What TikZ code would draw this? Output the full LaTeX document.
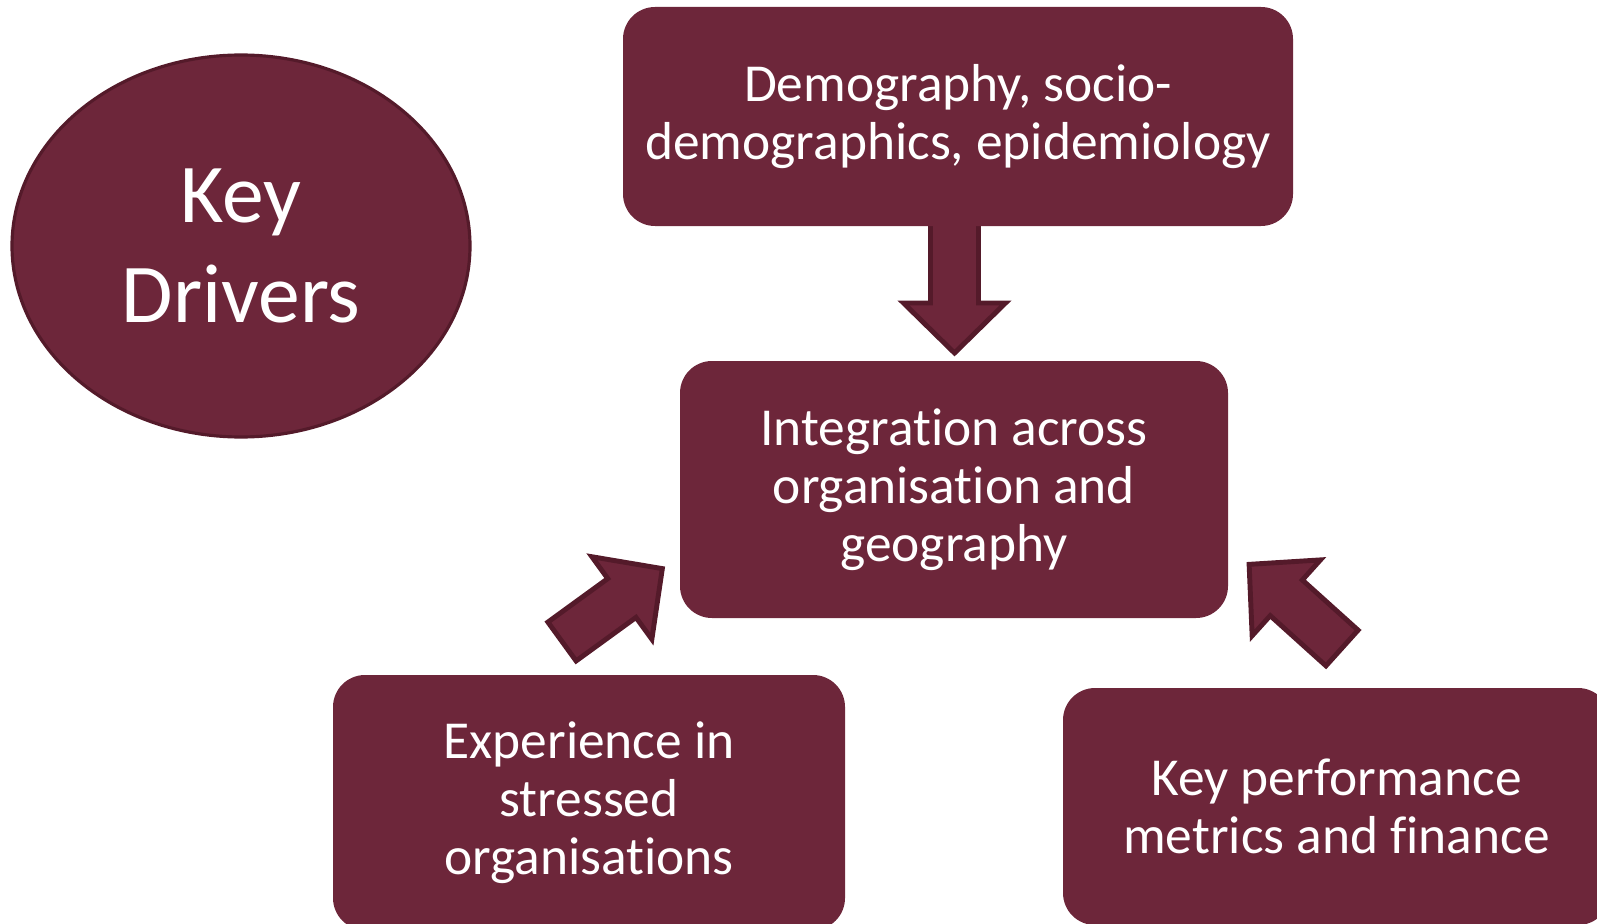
\documentclass[tikz,border=0pt]{standalone}
\usepackage{fontspec}
\setmainfont[Ligatures=NoCommon]{Carlito}
\usetikzlibrary{shapes.geometric}

\definecolor{maroon}{RGB}{109,38,58}
\definecolor{maroonedge}{RGB}{84,26,42}

\tikzset{
  box/.style={rectangle, fill=maroon, rounded corners=0.32cm, text=white,
    align=center, inner sep=0pt, font=\fontsize{15.2}{16.5}\selectfont},
  blockarrow/.style={fill=maroon, draw=maroonedge, line width=1.4pt, line join=miter}
}

\begin{document}
\begin{tikzpicture}
\useasboundingbox (0,0) rectangle (15.97,9.23);

% block arrows: tail x / tail y / angle / length
\foreach \tx/\ty/\ang/\len in {9.545/7.00/-90/1.30, 5.62/2.815/36/1.24, 13.42/2.75/138/1.25}{
  \begin{scope}[shift={(\tx,\ty)}, rotate=\ang]
    \draw[blockarrow] (0,-0.24) -- ({\len-0.5},-0.24) -- ({\len-0.5},-0.51) -- (\len,0)
      -- ({\len-0.5},0.51) -- ({\len-0.5},0.24) -- (0,0.24) -- cycle;
  \end{scope}
}

\node[ellipse, fill=maroon, draw=maroonedge, line width=0.9pt, text=white, align=center,
  minimum width=4.58cm, minimum height=3.82cm, inner sep=0pt,
  font=\fontsize{23.8}{28.6}\selectfont] (drivers) at (2.41,6.77) {Key\\Drivers};

\node[box, minimum width=6.70cm, minimum height=2.19cm] (demog) at (9.58,8.065)
  {\raisebox{-0.03cm}{Demography, socio-}\\\raisebox{-0.03cm}{demographics, epidemiology}};
\node[box, minimum width=5.48cm, minimum height=2.57cm] (integ) at (9.54,4.335)
  {Integration across\\organisation and\\geography};
\node[box, minimum width=5.12cm, minimum height=2.55cm] (exper) at (5.89,1.205)
  {Experience in\\stressed\\organisations};
\node[box, minimum width=5.47cm, minimum height=2.37cm] (kpi) at (13.365,1.165)
  {Key performance\\metrics and finance};

\end{tikzpicture}
\end{document}
